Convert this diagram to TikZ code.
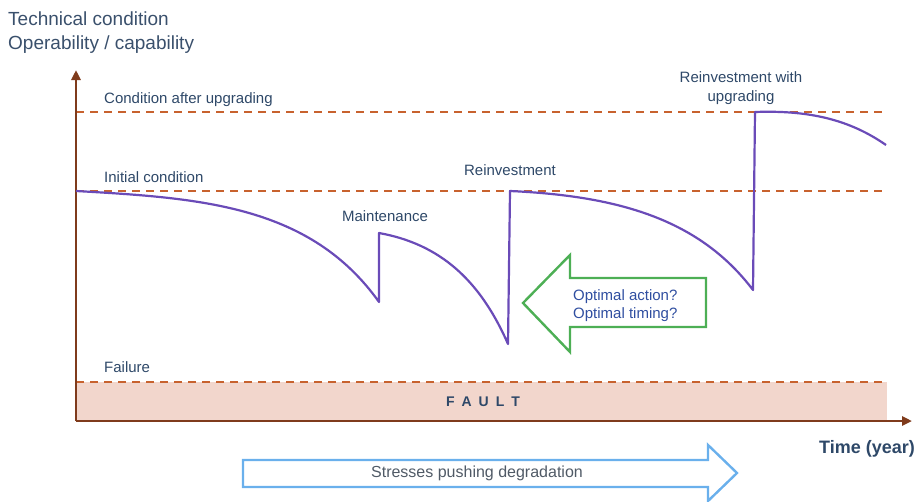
\documentclass[tikz,border=0pt]{standalone}
\usepackage{fontspec}
\setmainfont{Liberation Sans}
\usetikzlibrary{arrows.meta}
\definecolor{axisbrown}{HTML}{7F3B1C}
\definecolor{dashorange}{HTML}{C8622E}
\definecolor{faultfill}{HTML}{F2D6CC}
\definecolor{curveviolet}{HTML}{6A4BB8}
\definecolor{labelblue}{HTML}{2E4868}
\definecolor{greenarrow}{HTML}{4DAF55}
\definecolor{bluearrow}{HTML}{6AB0EC}
\definecolor{qblue}{HTML}{2F4EA0}
\definecolor{stressgray}{HTML}{505A66}
\begin{document}
\begin{tikzpicture}[x=1pt,y=-1pt,
  lbl/.style={font=\fontsize{15}{18}\selectfont,text=labelblue,inner sep=0pt},
  level/.style={dashorange,line width=1.8pt,dash pattern=on 8pt off 6pt},
  axis/.style={axisbrown,line width=2.6pt,-{Triangle[length=10pt,width=9pt]}},
  curve/.style={curveviolet,line width=2.2pt,line join=round}]
\useasboundingbox (0,0) rectangle (924,501);
% fault zone
\fill[faultfill] (76,382) rectangle (887,420);
\node[font=\bfseries\fontsize{14}{16}\selectfont,text=labelblue] (fault) at (483,402) {F\,\,\,A\,\,\,U\,\,\,L\,\,\,T};
% level lines
\coordinate (fl0) at (76,382); \coordinate (fl1) at (887,382);
\coordinate (il0) at (76,191); \coordinate (il1) at (887,191);
\coordinate (ul0) at (76,112); \coordinate (ul1) at (887,112);
\draw[level] (fl0) -- (fl1);
\draw[level] (il0) -- (il1);
\draw[level] (ul0) -- (ul1);
\node[lbl,anchor=base west] (lcu) at (104,103) {Condition after upgrading};
\node[lbl,anchor=base west] (lic) at (104,182) {Initial condition};
\node[lbl,anchor=base west] (lfa) at (104,372) {Failure};
% axes
\coordinate (o) at (76,421);
\coordinate (ytop) at (76,70);
\coordinate (xend) at (912,421);
\draw[axis] (o) -- (ytop);
\draw[axis] (o) -- (xend);
\node[anchor=base west,font=\fontsize{19}{22}\selectfont,text=labelblue!85!gray,inner sep=0pt] (t1) at (8,25) {Technical condition};
\node[anchor=base west,font=\fontsize{19}{22}\selectfont,text=labelblue!85!gray,inner sep=0pt] (t2) at (8,49) {Operability / capability};
\node[font=\bfseries\fontsize{18}{21}\selectfont,text=labelblue] (time) at (867,449) {Time (year)};
% condition curve
\draw[curve] (76,191) .. controls (200,198) and (310,205) .. (379,302)
  -- (379,233) .. controls (440,244) and (480,280) .. (508,344)
  -- (510,191) .. controls (620,196) and (700,220) .. (753,290)
  -- (755,112) .. controls (810,110) and (850,120) .. (886,145);
\node[lbl] (mnt) at (385,216) {Maintenance};
\node[lbl] (rei) at (510,170) {Reinvestment};
\node[lbl,align=center,font=\fontsize{15}{19}\selectfont] (reu) at (741,88) {Reinvestment with\\upgrading};
% decision arrow
\draw[greenarrow,line width=2.4pt,line join=miter] (706,278) -- (570,278) -- (570,255) -- (523,303) -- (570,352) -- (570,327) -- (706,327) -- cycle;
\node[font=\fontsize{15}{18}\selectfont,text=qblue,align=left,anchor=west,inner sep=0pt] (opt) at (573,306) {Optimal action?\\Optimal timing?};
% stress arrow
\draw[bluearrow,line width=2.4pt,line join=miter] (243,460) -- (708,460) -- (708,445) -- (737,473) -- (708,501) -- (708,487) -- (243,487) -- cycle;
\node[font=\fontsize{16}{19}\selectfont,text=stressgray] (str) at (477,473) {Stresses pushing degradation};
\end{tikzpicture}
\end{document}
